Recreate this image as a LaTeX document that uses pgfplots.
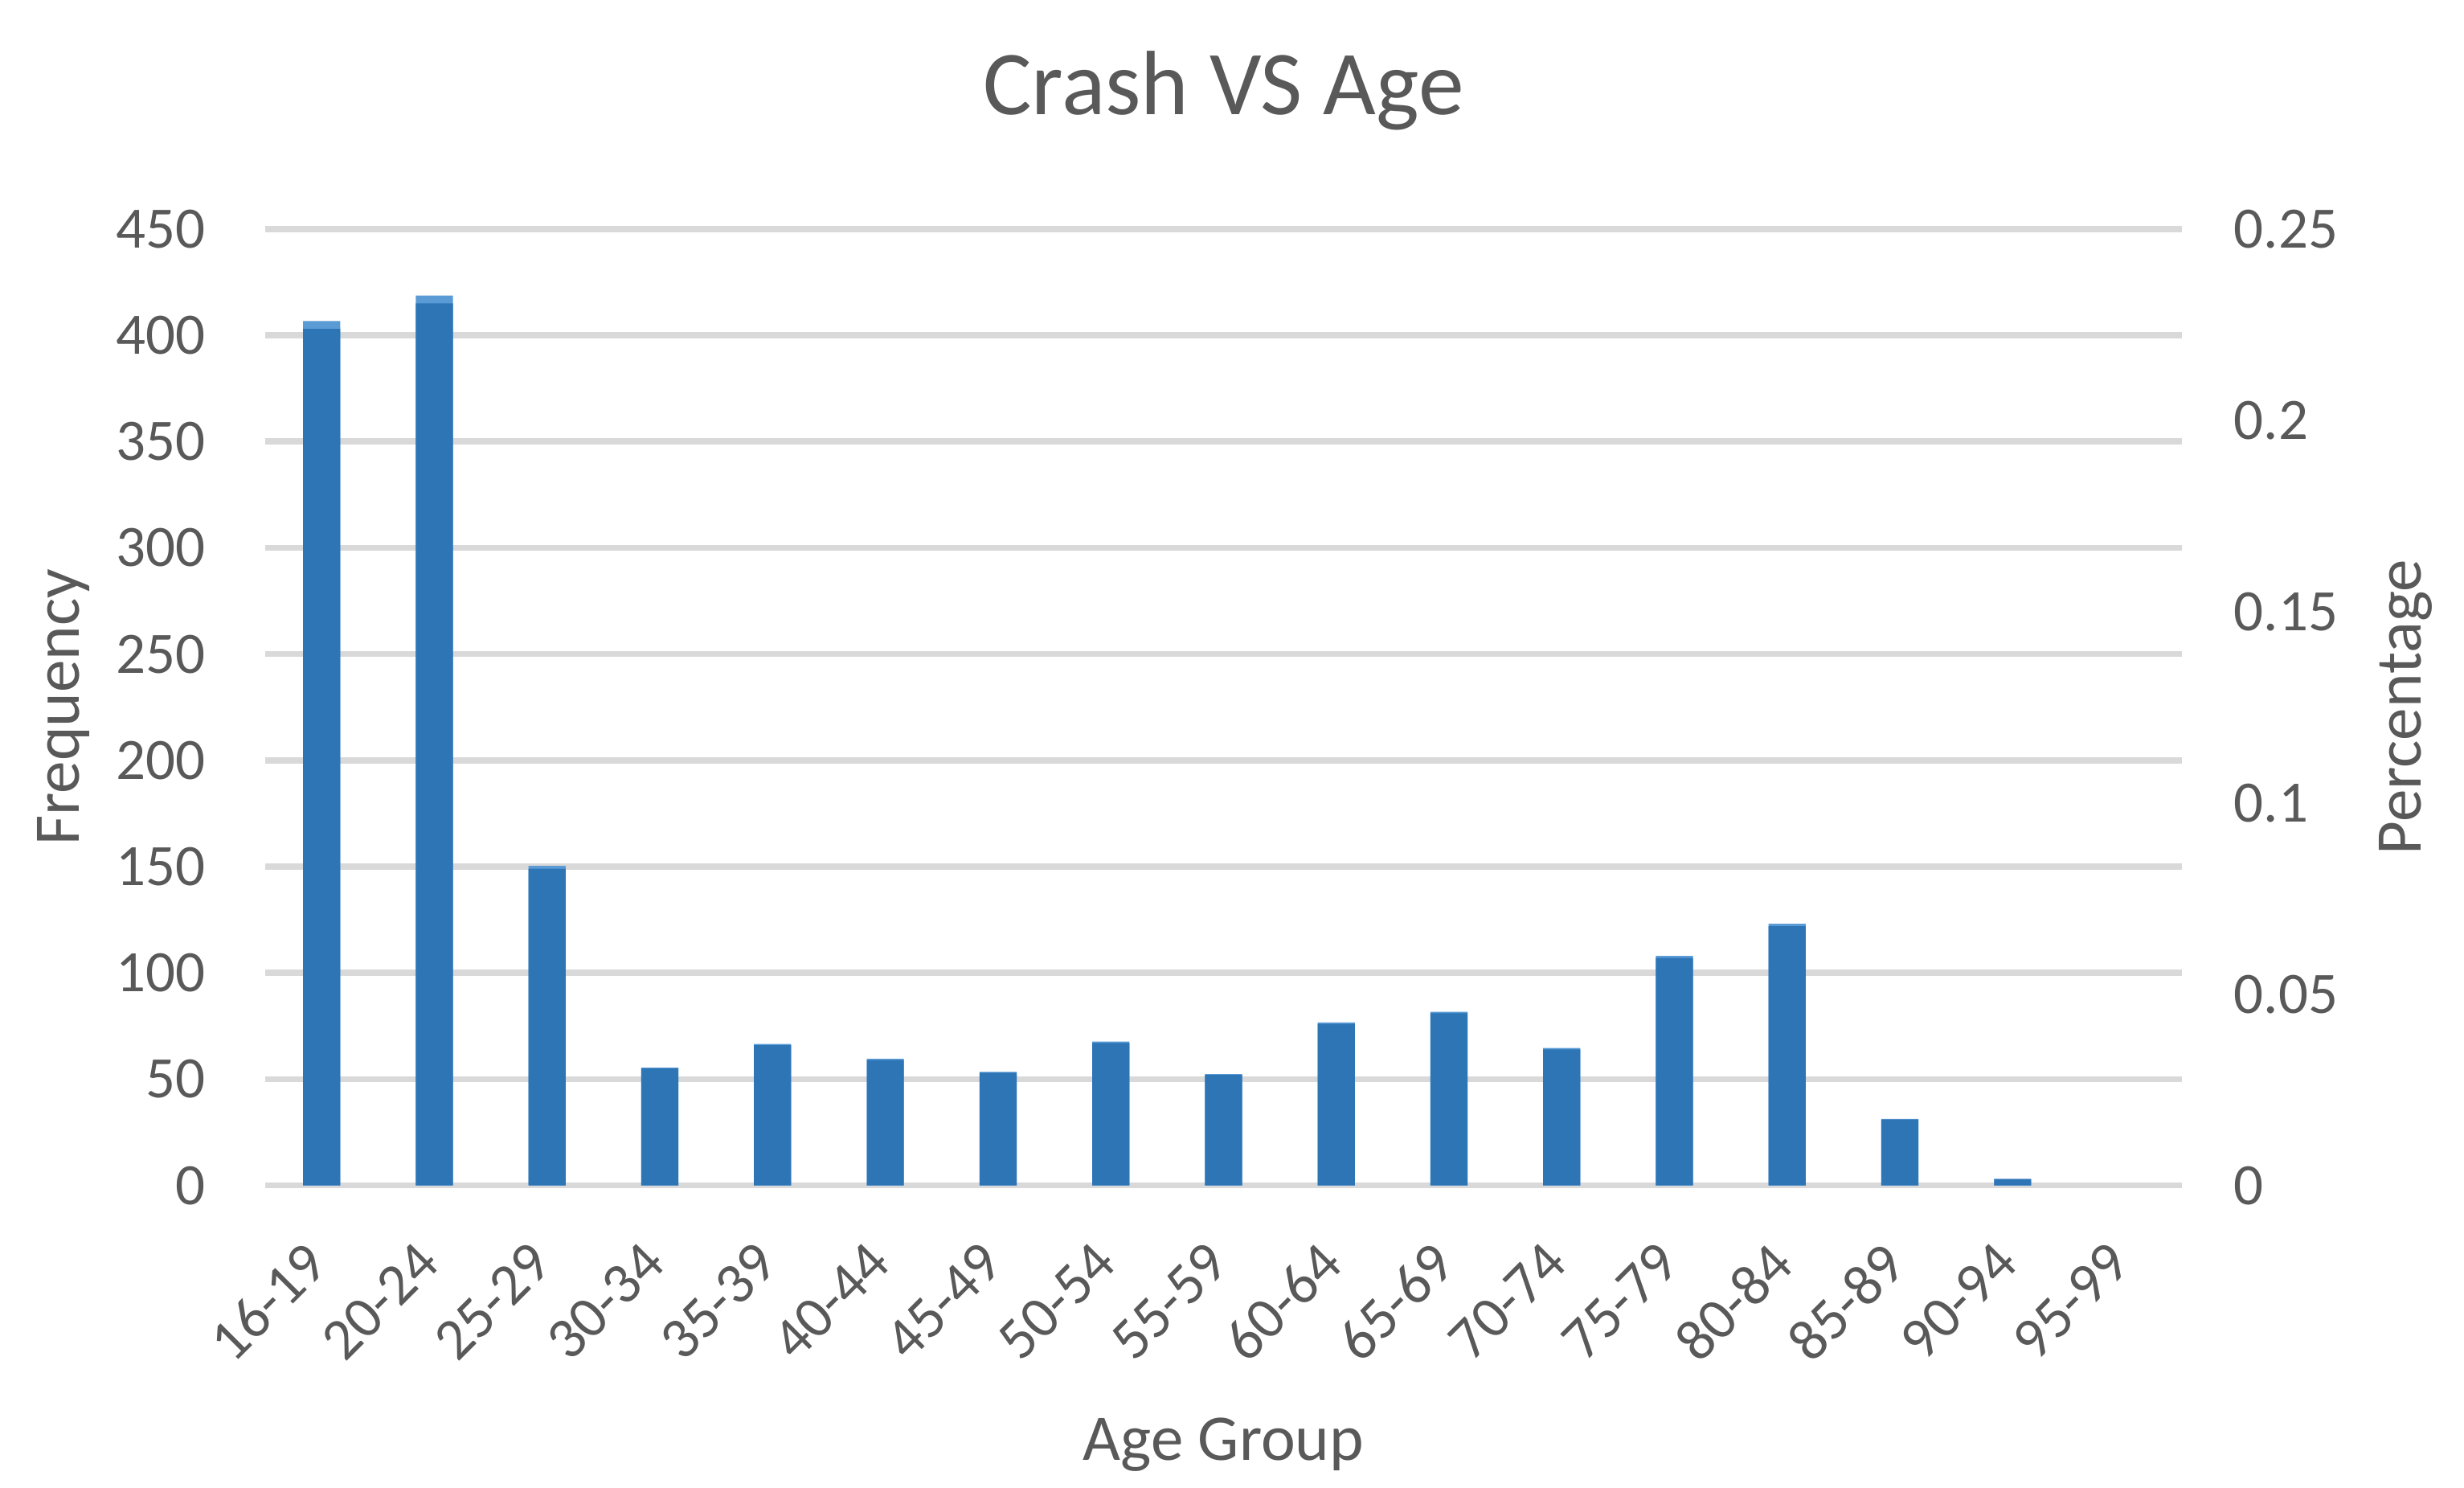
\documentclass[border=0pt]{standalone}
\usepackage{fontspec}
\setmainfont{Carlito}
\usepackage{pgfplots}
\usepackage{pgfplotstable}
\pgfplotsset{compat=1.18}
\definecolor{txt}{HTML}{595959}
\definecolor{gridc}{HTML}{D9D9D9}
\definecolor{darkbar}{HTML}{2E75B6}
\definecolor{lightbar}{HTML}{5B9BD5}

% age group index, frequency, percentage
\pgfplotstableread{
x freq pct
0  403 0.2259
1  415 0.2326
2  149 0.0835
3  55  0.0308
4  66  0.0370
5  59  0.0331
6  53  0.0297
7  67  0.0376
8  52  0.0291
9  76  0.0426
10 81  0.0454
11 64  0.0359
12 107 0.0600
13 122 0.0684
14 31  0.0174
15 3   0.0017
16 0   0.0000
}\crashdata

\tikzset{lbl/.style={font=\fontsize{10}{12}\selectfont, text=txt}}
\pgfplotsset{
  base/.style={
    set layers,
    scale only axis,
    width=294pt, height=146.7pt,
    xmin=-0.5, xmax=16.5, ymin=0,
    axis line style={draw=none},
    major tick length=0pt,
    /pgf/number format/assume math mode=true,
    ticklabel style={font=\fontsize{9}{11}\selectfont, text=txt},
    ybar, bar width=5.7pt,
    xtick={0,...,16},
  },
}

\begin{document}
\begin{tikzpicture}
% secondary axis: percentage
\begin{axis}[base,
  ymax=0.25,
  ytick={0,0.05,0.1,0.15,0.2,0.25},
  yticklabels={0,0.05,0.1,0.15,0.2,0.25},
  yticklabel pos=right,
  yticklabel style={anchor=west, inner sep=0pt, xshift=7.8pt},
  xticklabels={},
  every axis y label/.style={lbl, at={(axis description cs:1.1167,0.5)}, rotate=90, anchor=center},
  ylabel={Percentage},
]
% zero-height bar of 95-99 left out so no hairline shows
\addplot[fill=lightbar, draw=none, skip coords between index={16}{17}] table[x=x, y=pct] {\crashdata};
\end{axis}
% primary axis: frequency
\begin{axis}[base,
  ymax=450,
  ytick={0,50,...,450},
  ymajorgrids,
  grid style={gridc, line width=0.95pt},
  yticklabel style={anchor=east, inner sep=0pt, xshift=-9pt},
  xticklabels={16-19,20-24,25-29,30-34,35-39,40-44,45-49,50-54,55-59,60-64,65-69,70-74,75-79,80-84,85-89,90-94,95-99},
  xticklabel style={xshift=-3pt, yshift=-8pt, rotate=45, anchor=north east, inner sep=0pt},
  every axis y label/.style={lbl, at={(axis description cs:-0.1054,0.5)}, rotate=90, anchor=center},
  ylabel={Frequency},
  every axis x label/.style={lbl, at={(axis description cs:0.5,0)}, yshift=-39.8pt, anchor=center},
  xlabel={Age Group},
  title={Crash VS Age},
  every axis title/.style={at={(axis description cs:0.5,1.1445)}, anchor=center, font=\fontsize{14}{17}\selectfont, text=txt},
]
\addplot[fill=darkbar, draw=none, skip coords between index={16}{17}] table[x=x, y=freq] {\crashdata};
\end{axis}
\pgfresetboundingbox
\useasboundingbox (-40.7pt,-46.3pt) rectangle (337.3pt,181.8pt);
\end{tikzpicture}
\end{document}
